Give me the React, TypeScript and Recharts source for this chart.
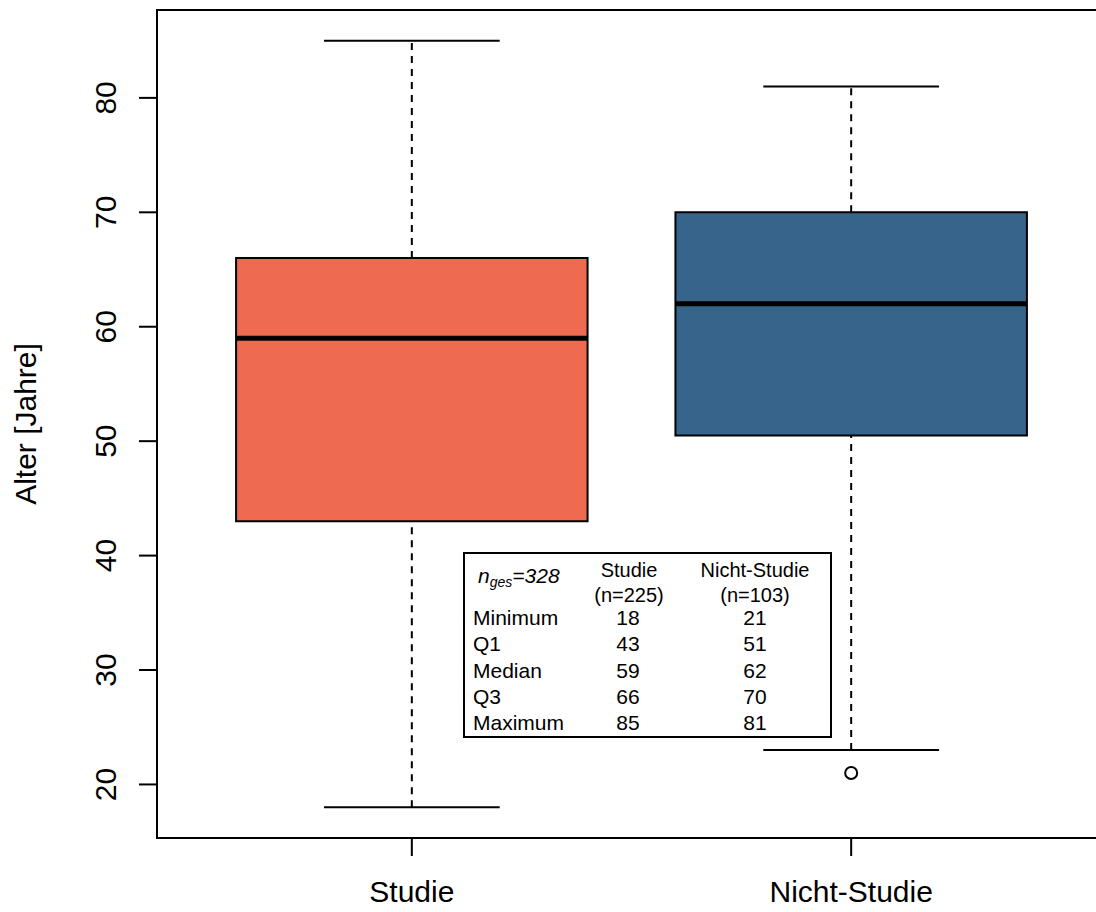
import { ComposedChart, XAxis, YAxis, ReferenceArea, ReferenceLine, Scatter } from 'recharts';

const groups = ['Studie', 'Nicht-Studie'];
const groupN = [225, 103];
const whiskerLow = [18, 23];
const hingeLow = [43, 50.5];
const medians = [59, 62];
const hingeHigh = [66, 70];
const whiskerHigh = [85, 81];
const boxColors = ['#EE6B52', '#36648B'];
const outliers = [{ x: 2, y: 21 }];

const yTicks = [20, 30, 40, 50, 60, 70, 80];
const yDomain: [number, number] = [15.32, 87.68];
const xDomain: [number, number] = [0.42, 2.58];

const statLabels = ['Minimum', 'Q1', 'Median', 'Q3', 'Maximum'];
const studieStats = [18, 43, 59, 66, 85];
const nichtStats = [21, 51, 62, 70, 81];
const nTotal = 328;

const FONT = '"Liberation Sans", Arial, Helvetica, sans-serif';

function YTick(props: any) {
  const { x, y, payload } = props;
  return (
    <text
      transform={`translate(${x - 19},${y}) rotate(-90)`}
      textAnchor="middle"
      fontSize={30}
      fontFamily={FONT}
      fill="#000"
    >
      {payload.value}
    </text>
  );
}

function StatsTable() {
  const rowY = (i: number) => 625 + i * 26.25;
  return (
    <svg
      width={1096}
      height={912}
      style={{ position: 'absolute', left: 0, top: 0, pointerEvents: 'none' }}
      fontFamily={FONT}
    >
      <rect x={464} y={553} width={367} height={184} fill="#fff" stroke="#000" strokeWidth={2} />
      <text x={478} y={583} fontSize={21} fontStyle="italic">
        n<tspan fontSize={14} dy={4}>ges</tspan>
        <tspan dy={-4}>={nTotal}</tspan>
      </text>
      <text x={629} y={577} fontSize={20} textAnchor="middle">{groups[0]}</text>
      <text x={629} y={602} fontSize={20} textAnchor="middle">(n={groupN[0]})</text>
      <text x={755} y={577} fontSize={20} textAnchor="middle">{groups[1]}</text>
      <text x={755} y={602} fontSize={20} textAnchor="middle">(n={groupN[1]})</text>
      {statLabels.map((lab, i) => (
        <g key={lab} fontSize={21}>
          <text x={473} y={rowY(i)}>{lab}</text>
          <text x={628} y={rowY(i)} textAnchor="middle">{studieStats[i]}</text>
          <text x={755} y={rowY(i)} textAnchor="middle">{nichtStats[i]}</text>
        </g>
      ))}
    </svg>
  );
}

export default function App() {
  return (
    <div
      style={{
        position: 'absolute',
        left: 0,
        top: 0,
        width: 1096,
        height: 912,
        overflow: 'hidden',
        background: '#fff',
      }}
    >
      <ComposedChart width={1106} height={912} margin={{ top: 10, right: 0, left: 0, bottom: 0 }}>
        <XAxis
          type="number"
          dataKey="x"
          domain={xDomain}
          allowDataOverflow
          ticks={[1, 2]}
          tickFormatter={(v: number) => groups[v - 1]}
          axisLine={false}
          tickLine={{ stroke: '#000', strokeWidth: 2 }}
          tickSize={18}
          tickMargin={25}
          height={74}
          tick={{ fontSize: 30, fill: '#000', fontFamily: FONT }}
        />
        <YAxis
          type="number"
          dataKey="y"
          domain={yDomain}
          allowDataOverflow
          ticks={yTicks}
          axisLine={false}
          tickLine={{ stroke: '#000', strokeWidth: 2 }}
          tickSize={18}
          tickMargin={4}
          width={157}
          tick={<YTick />}
          label={{
            content: () => (
              <text
                transform="translate(36,424) rotate(-90)"
                textAnchor="middle"
                fontSize={30}
                fontFamily={FONT}
                fill="#000"
              >
                Alter [Jahre]
              </text>
            ),
          }}
        />
        <ReferenceArea
          x1={xDomain[0]}
          x2={xDomain[1]}
          y1={yDomain[0]}
          y2={yDomain[1]}
          fill="none"
          fillOpacity={0}
          stroke="#000"
          strokeWidth={2}
          ifOverflow="visible"
        />
        {groups.map((g, i) => {
          const c = i + 1;
          return [
            <ReferenceLine
              key={`wl-${g}`}
              segment={[{ x: c, y: whiskerLow[i] }, { x: c, y: hingeLow[i] }]}
              stroke="#000"
              strokeWidth={2}
              strokeDasharray="7 6"
              ifOverflow="visible"
            />,
            <ReferenceLine
              key={`wh-${g}`}
              segment={[{ x: c, y: hingeHigh[i] }, { x: c, y: whiskerHigh[i] }]}
              stroke="#000"
              strokeWidth={2}
              strokeDasharray="7 6"
              ifOverflow="visible"
            />,
            <ReferenceLine
              key={`sl-${g}`}
              segment={[{ x: c - 0.2, y: whiskerLow[i] }, { x: c + 0.2, y: whiskerLow[i] }]}
              stroke="#000"
              strokeWidth={2}
              ifOverflow="visible"
            />,
            <ReferenceLine
              key={`sh-${g}`}
              segment={[{ x: c - 0.2, y: whiskerHigh[i] }, { x: c + 0.2, y: whiskerHigh[i] }]}
              stroke="#000"
              strokeWidth={2}
              ifOverflow="visible"
            />,
            <ReferenceArea
              key={`box-${g}`}
              x1={c - 0.4}
              x2={c + 0.4}
              y1={hingeLow[i]}
              y2={hingeHigh[i]}
              fill={boxColors[i]}
              fillOpacity={1}
              stroke="#000"
              strokeWidth={2}
              ifOverflow="visible"
            />,
            <ReferenceLine
              key={`med-${g}`}
              segment={[{ x: c - 0.4, y: medians[i] }, { x: c + 0.4, y: medians[i] }]}
              stroke="#000"
              strokeWidth={5}
              ifOverflow="visible"
            />,
          ];
        })}
        <Scatter
          data={outliers}
          dataKey="y"
          isAnimationActive={false}
          shape={(p: any) => (
            <circle cx={p.cx} cy={p.cy} r={6} fill="none" stroke="#000" strokeWidth={2} />
          )}
        />
      </ComposedChart>
      <StatsTable />
    </div>
  );
}
